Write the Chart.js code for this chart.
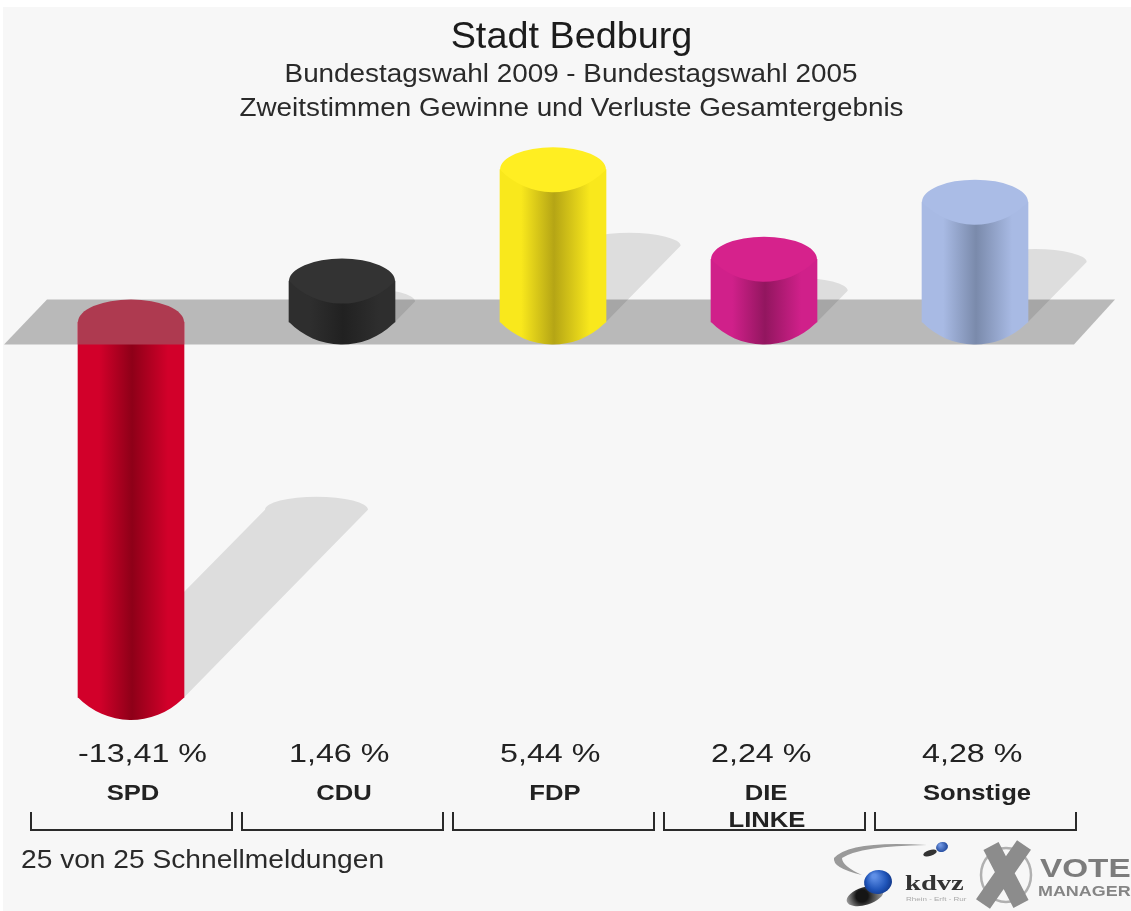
<!DOCTYPE html>
<html><head><meta charset="utf-8">
<style>html,body{margin:0;padding:0;background:#fff}canvas{display:block;filter:blur(0.6px)}</style>
<script src="https://cdn.jsdelivr.net/npm/chart.js@4"></script>
</head><body><canvas id="c" width="1131" height="911"></canvas>
<script>
const categories = [['SPD'], ['CDU'], ['FDP'], ['DIE', 'LINKE'], ['Sonstige']];
const changes = [-13.41, 1.46, 5.44, 2.24, 4.28];
const valueLabels = ['-13,41 %', '1,46 %', '5,44 %', '2,24 %', '4,28 %'];
const titleText = 'Stadt Bedburg';
const subtitleLines = ['Bundestagswahl 2009 - Bundestagswahl 2005', 'Zweitstimmen Gewinne und Verluste Gesamtergebnis'];
const footerText = '25 von 25 Schnellmeldungen';
const edgeColors = ['#d2002a', '#2e2e2e', '#f9e81c', '#d0208a', '#a8bae4'];
const midColors = ['#8e0018', '#212121', '#b5a515', '#92165f', '#7a8aab'];
const capColors = ['#d2002a', '#333333', '#ffee22', '#d6228c', '#aabce6'];
const FONT = '"Liberation Sans", Arial, sans-serif';
const RY = 22.5;

function bodyGradient(chart, i) {
  const x = chart.scales.x.getPixelForValue(i), w = 53;
  const g = chart.ctx.createLinearGradient(x - w, 0, x + w, 0);
  g.addColorStop(0, edgeColors[i]);
  g.addColorStop(0.2, edgeColors[i]);
  g.addColorStop(0.51, midColors[i]);
  g.addColorStop(0.85, edgeColors[i]);
  g.addColorStop(1, edgeColors[i]);
  return g;
}
// lower rim of a cylinder: a shallow circular arc between the two side edges
function lowerArc(c, x, y, w) {
  const R = (w * w + RY * RY) / (2 * RY), a = Math.asin(w / R);
  c.arc(x, y + RY - R, R, Math.PI / 2 + a, Math.PI / 2 - a, true);
}
function text(ctx, s, x, y, size, sx, align, weight, color) {
  ctx.save();
  ctx.font = (weight || 'normal') + ' ' + size + 'px ' + FONT;
  ctx.fillStyle = color || '#1c1c1c';
  ctx.textAlign = align; ctx.textBaseline = 'alphabetic';
  ctx.translate(x, y); ctx.scale(sx, 1);
  ctx.fillText(s, 0, 0);
  ctx.restore();
}
const scene = {
  id: 'scene',
  beforeDraw(chart) {
    const c = chart.ctx;
    c.save();
    c.fillStyle = '#f7f7f7';
    c.fillRect(3, 7, chart.width - 3, chart.height - 7);
    c.restore();
  },
  beforeDatasetsDraw(chart) {
    const c = chart.ctx, yS = chart.scales.y, zero = yS.getPixelForValue(0);
    const top = zero - RY, bot = zero + RY;
    c.save();
    c.fillStyle = 'rgba(0,0,0,0.25)';
    c.beginPath();
    c.moveTo(47, top); c.lineTo(1115, top); c.lineTo(1074, bot); c.lineTo(4, bot);
    c.closePath(); c.fill();
    chart.getDatasetMeta(0).data.forEach((el, i) => {
      const h = Math.abs(el.y - zero), b = changes[i] < 0 ? el.y : zero;
      const w = el.width / 2, dx = h * 0.49, dy = h * 0.5;
      c.fillStyle = 'rgba(0,0,0,0.1)';
      c.beginPath();
      c.moveTo(el.x - w + 2, b);
      c.lineTo(el.x - w + 3 + dx, b - dy);
      c.ellipse(el.x + 1.5 + dx, b - dy, w - 1.5, 13, 0, Math.PI, 2 * Math.PI);
      c.lineTo(el.x + w, b);
      c.closePath(); c.fill();
    });
    c.restore();
  },
  afterDatasetsDraw(chart) {
    const c = chart.ctx, zero = chart.scales.y.getPixelForValue(0);
    c.save();
    chart.getDatasetMeta(0).data.forEach((el, i) => {
      const w = el.width / 2, neg = changes[i] < 0, b = neg ? el.y : zero;
      c.fillStyle = bodyGradient(chart, i);
      c.beginPath();
      c.moveTo(el.x - w, b - 2);
      lowerArc(c, el.x, b, w);
      c.lineTo(el.x + w, b - 2);
      c.closePath(); c.fill();
      if (neg) {
        c.fillStyle = '#ae3a50';
        c.beginPath();
        c.ellipse(el.x, zero, w, RY, 0, Math.PI, 2 * Math.PI);
        c.lineTo(el.x + w, zero + RY);
        c.lineTo(el.x - w, zero + RY);
        c.closePath(); c.fill();
      } else {
        c.fillStyle = capColors[i];
        c.beginPath();
        c.ellipse(el.x, el.y, w, RY, 0, Math.PI, 2 * Math.PI);
        lowerArc(c, el.x, el.y, w);
        c.closePath(); c.fill();
      }
    });
    c.restore();
  },
  afterDraw(chart) {
    const c = chart.ctx, xS = chart.scales.x;
    text(c, titleText, 571.5, 48, 36, 1.05, 'center');
    text(c, subtitleLines[0], 571, 82, 25, 1.114, 'center', 'normal', '#2a2a2a');
    text(c, subtitleLines[1], 571.5, 116, 25, 1.114, 'center', 'normal', '#2a2a2a');
    chart.getDatasetMeta(0).data.forEach((el, i) => {
      text(c, valueLabels[i], el.x - 53, 762, 26, 1.24, 'left', 'normal', '#222');
      const cx = xS.getPixelForValue(i);
      categories[i].forEach((line, k) => {
        text(c, line, cx + 2 + (k ? 1 : 0), 800 + k * 27, 22, 1.165, 'center', 'bold', '#222');
      });
      c.save();
      c.strokeStyle = '#2a2a2a'; c.lineWidth = 2;
      c.beginPath();
      c.moveTo(cx - 100, 812); c.lineTo(cx - 100, 830); c.lineTo(cx + 101, 830); c.lineTo(cx + 101, 812);
      c.stroke();
      c.restore();
    });
    text(c, footerText, 21, 868, 25, 1.126, 'left', 'normal', '#2a2a2a');
    drawLogos(c);
  }
};
function drawLogos(c) {
  c.save();
  // kdvz swoosh
  c.fillStyle = '#9a9a9a';
  c.beginPath();
  c.moveTo(927, 845);
  c.quadraticCurveTo(850, 840, 834, 858);
  c.quadraticCurveTo(832, 868, 862, 875);
  c.quadraticCurveTo(842, 866, 842, 858);
  c.quadraticCurveTo(860, 846, 927, 845);
  c.fill();
  c.fillStyle = '#333';
  c.beginPath(); c.ellipse(930, 853, 7, 3, -0.3, 0, 7); c.fill();
  let g = c.createRadialGradient(940, 845, 1, 942, 847, 7);
  g.addColorStop(0, '#6f95e0'); g.addColorStop(1, '#123a8f');
  c.fillStyle = g;
  c.beginPath(); c.ellipse(942, 847, 6, 5, -0.3, 0, 7); c.fill();
  g = c.createRadialGradient(862, 896, 6, 865, 896, 20);
  g.addColorStop(0, '#151515'); g.addColorStop(1, 'rgba(70,70,70,0.45)');
  c.fillStyle = g;
  c.beginPath(); c.ellipse(865, 896, 19, 9, -0.3, 0, 7); c.fill();
  g = c.createRadialGradient(874, 876, 2, 878, 882, 16);
  g.addColorStop(0, '#5f8fe6'); g.addColorStop(0.6, '#1f54b8'); g.addColorStop(1, '#0e2f7a');
  c.fillStyle = g;
  c.beginPath(); c.ellipse(878, 882, 14, 12, -0.2, 0, 7); c.fill();
  c.restore();
  c.save();
  c.font = 'bold 22px "Liberation Serif", serif';
  c.fillStyle = '#333'; c.textAlign = 'left';
  c.translate(905, 890); c.scale(1.3, 1);
  c.fillText('kdvz', 0, 0);
  c.restore();
  text(c, 'Rhein - Erft - Rur', 906, 901, 5, 1.6, 'left', 'normal', '#aaa');
  // X mark
  c.save();
  c.strokeStyle = '#b0b0b0'; c.lineWidth = 2.5;
  c.beginPath(); c.ellipse(1006, 875, 25, 27, 0, 0, 7); c.stroke();
  c.strokeStyle = '#8c8c8c'; c.lineWidth = 17;
  c.beginPath(); c.moveTo(991, 846); c.lineTo(1021, 904); c.moveTo(1024, 845); c.lineTo(983, 904); c.stroke();
  c.restore();
  text(c, 'VOTE', 1040, 877, 26, 1.28, 'left', 'bold', '#7c7c7c');
  text(c, 'MANAGER', 1038, 896, 14, 1.28, 'left', 'bold', '#858585');
}
new Chart(document.getElementById('c'), {
  type: 'bar',
  data: {
    labels: categories,
    datasets: [{
      data: changes,
      barThickness: 106,
      borderWidth: 0,
      backgroundColor: ctx => ctx.chart.chartArea ? bodyGradient(ctx.chart, ctx.dataIndex) : edgeColors[ctx.dataIndex]
    }]
  },
  options: {
    responsive: false, animation: false,
    layout: { padding: { left: 25.5, right: 50.5, top: 154, bottom: 169 } },
    plugins: { legend: { display: false }, tooltip: { enabled: false } },
    scales: {
      x: { display: false },
      y: { display: false, min: -15, max: 6 }
    }
  },
  plugins: [scene]
});
</script></body></html>
